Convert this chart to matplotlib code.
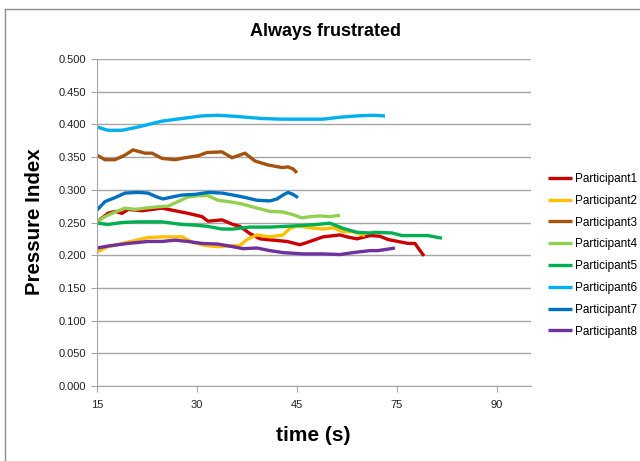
import matplotlib.pyplot as plt
from matplotlib.lines import Line2D

# x positions are in tick units: 0 -> "15", 1 -> "30", 2 -> "45", 3 -> "75", 4 -> "90"
tick_labels = ['15', '30', '45', '75', '90']
y_ticks = [0.0, 0.05, 0.10, 0.15, 0.20, 0.25, 0.30, 0.35, 0.40, 0.45, 0.50]

p1_x = [0, 0.11, 0.18, 0.25, 0.31, 0.45, 0.55, 0.65, 0.78, 0.91, 1.05, 1.11, 1.25, 1.36, 1.43, 1.53, 1.63,
        1.76, 1.90, 2.03, 2.13, 2.26, 2.43, 2.50, 2.60, 2.73, 2.83, 2.91, 3.01, 3.11, 3.18, 3.23, 3.27]
p1_y = [0.251, 0.264, 0.267, 0.264, 0.270, 0.268, 0.270, 0.272, 0.268, 0.264, 0.259, 0.252, 0.254, 0.247,
        0.244, 0.233, 0.225, 0.223, 0.221, 0.216, 0.221, 0.228, 0.231, 0.228, 0.225, 0.230, 0.229, 0.224,
        0.221, 0.218, 0.218, 0.207, 0.199]

p2_x = [0, 0.11, 0.31, 0.51, 0.65, 0.85, 0.95, 1.08, 1.21, 1.31, 1.43, 1.50, 1.60, 1.73, 1.86, 1.93, 2.00,
        2.13, 2.26, 2.36, 2.46, 2.56, 2.68]
p2_y = [0.205, 0.213, 0.220, 0.227, 0.228, 0.228, 0.220, 0.215, 0.213, 0.214, 0.215, 0.224, 0.231, 0.228,
        0.231, 0.241, 0.245, 0.242, 0.240, 0.242, 0.236, 0.236, 0.230]

p3_x = [0, 0.08, 0.18, 0.28, 0.36, 0.48, 0.55, 0.65, 0.78, 0.88, 1.01, 1.10, 1.25, 1.35, 1.48, 1.58, 1.71,
        1.85, 1.91, 1.96, 2.00]
p3_y = [0.353, 0.346, 0.346, 0.353, 0.361, 0.356, 0.356, 0.348, 0.346, 0.349, 0.352, 0.357, 0.358, 0.349,
        0.356, 0.344, 0.338, 0.334, 0.335, 0.332, 0.326]

p4_x = [0, 0.08, 0.18, 0.28, 0.38, 0.48, 0.61, 0.71, 0.81, 0.91, 1.01, 1.11, 1.21, 1.36, 1.46, 1.60, 1.73,
        1.86, 1.96, 2.05, 2.13, 2.23, 2.33, 2.43]
p4_y = [0.251, 0.259, 0.266, 0.272, 0.270, 0.272, 0.274, 0.275, 0.282, 0.289, 0.291, 0.291, 0.284, 0.281,
        0.278, 0.272, 0.267, 0.266, 0.262, 0.257, 0.259, 0.260, 0.259, 0.261]

p5_x = [0, 0.11, 0.25, 0.41, 0.65, 0.85, 0.98, 1.11, 1.25, 1.36, 1.53, 1.73, 2.00, 2.20, 2.33, 2.46, 2.60,
        2.73, 2.78, 2.95, 3.05, 3.18, 3.31, 3.45]
p5_y = [0.249, 0.247, 0.250, 0.251, 0.251, 0.247, 0.246, 0.244, 0.240, 0.240, 0.243, 0.243, 0.245, 0.247,
        0.249, 0.241, 0.235, 0.234, 0.235, 0.234, 0.230, 0.230, 0.230, 0.226]

p6_x = [0, 0.11, 0.25, 0.41, 0.65, 0.85, 1.05, 1.21, 1.41, 1.65, 1.85, 2.05, 2.26, 2.43, 2.60, 2.76, 2.88]
p6_y = [0.396, 0.391, 0.391, 0.396, 0.405, 0.409, 0.413, 0.414, 0.412, 0.409, 0.408, 0.408, 0.408, 0.411,
        0.413, 0.414, 0.413]

p7_x = [0, 0.08, 0.18, 0.28, 0.41, 0.51, 0.60, 0.66, 0.75, 0.85, 0.98, 1.11, 1.25, 1.36, 1.46, 1.60, 1.73,
        1.80, 1.86, 1.91, 1.96, 2.01]
p7_y = [0.269, 0.282, 0.288, 0.295, 0.296, 0.295, 0.289, 0.286, 0.289, 0.292, 0.293, 0.296, 0.295, 0.292,
        0.289, 0.284, 0.283, 0.286, 0.292, 0.296, 0.293, 0.288]

p8_x = [0, 0.11, 0.31, 0.51, 0.65, 0.78, 0.91, 1.05, 1.21, 1.36, 1.46, 1.60, 1.73, 1.86, 2.06, 2.26, 2.43,
        2.56, 2.73, 2.81, 2.98]
p8_y = [0.211, 0.214, 0.218, 0.221, 0.221, 0.223, 0.221, 0.218, 0.217, 0.213, 0.210, 0.211, 0.207, 0.204,
        0.202, 0.202, 0.201, 0.204, 0.207, 0.207, 0.211]

names = ['Participant1', 'Participant2', 'Participant3', 'Participant4',
         'Participant5', 'Participant6', 'Participant7', 'Participant8']
colors = ['#cc0000', '#ffc000', '#a5520f', '#92d050', '#00b050', '#00b0f0', '#0070c0', '#7030a0']
series = [(p1_x, p1_y), (p2_x, p2_y), (p3_x, p3_y), (p4_x, p4_y),
          (p5_x, p5_y), (p6_x, p6_y), (p7_x, p7_y), (p8_x, p8_y)]

plt.rcParams['font.family'] = ['Liberation Sans', 'DejaVu Sans']

fig = plt.figure(figsize=(6.4, 4.61), dpi=100)
ax = fig.add_axes([97 / 640, 1 - 386 / 461, (531 - 97) / 640, (386 - 59) / 461])

# chart area frame (Excel style), only left and top visible
fig.add_artist(Line2D([5 / 640, 5 / 640], [0, 1 - 9 / 461], transform=fig.transFigure, color='#8c8c8c', lw=1))
fig.add_artist(Line2D([5 / 640, 1], [1 - 9 / 461, 1 - 9 / 461], transform=fig.transFigure, color='#8c8c8c', lw=1))

for (x, y), name, c in zip(series, names, colors):
    ax.plot(x, y, color=c, lw=2.4, label=name, solid_capstyle='butt')

ax.set_xlim(0, 4.34)
ax.set_ylim(0, 0.5)
ax.set_xticks(range(len(tick_labels)))
ax.set_xticklabels(tick_labels)
ax.set_yticks(y_ticks)
ax.set_yticklabels([f'{v:.3f}' for v in y_ticks])
ax.grid(axis='y', color='#a6a6a6', lw=1)
ax.set_axisbelow(True)
for s in ['top', 'right']:
    ax.spines[s].set_visible(False)
for s in ['left', 'bottom']:
    ax.spines[s].set_color('#a6a6a6')
ax.tick_params(axis='both', colors='#a6a6a6', labelcolor='#222222', labelsize=8, length=4)
ax.tick_params(axis='x', pad=6)

fig.text(325 / 640, 1 - 31 / 461, 'Always frustrated', ha='center', va='center', fontsize=13, fontweight='bold')
fig.text(35 / 640, 1 - 222 / 461, 'Pressure Index', ha='center', va='center', rotation=90,
         fontsize=14.8, fontweight='bold')
fig.text(313 / 640, 1 - 435 / 461, 'time (s)', ha='center', va='center', fontsize=15, fontweight='bold')

ax.legend(loc='upper left', bbox_to_anchor=(548 / 640, 1 - 173 / 461), bbox_transform=fig.transFigure,
          frameon=False, fontsize=8.5, handlelength=2.0, handletextpad=0.3, labelspacing=0.83,
          borderaxespad=0, borderpad=0)

plt.savefig('out.png', dpi=100)
